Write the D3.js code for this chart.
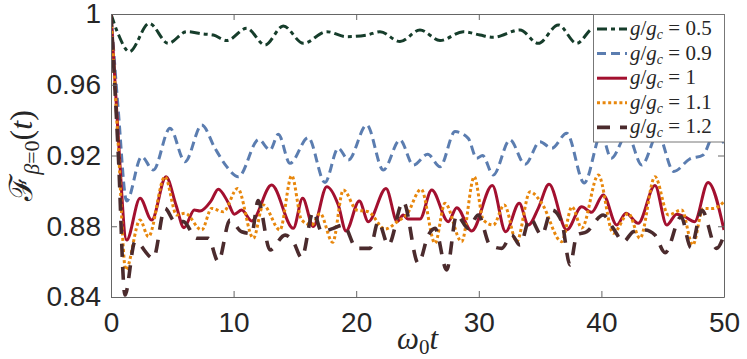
<!DOCTYPE html>
<html><head><meta charset="utf-8">
<script src="https://cdn.jsdelivr.net/npm/d3@7"></script>
<style>body{margin:0;background:#fff}svg{display:block}</style>
</head><body>
<svg id="c" width="747" height="359"></svg>
<script>
// ---- data ----
const xTicks = [0, 10, 20, 30, 40, 50];
const yTicks = [0.84, 0.88, 0.92, 0.96, 1];
const yTickLabels = ["0.84", "0.88", "0.92", "0.96", "1"];
const seriesNames = ["0.5", "0.9", "1", "1.1", "1.2"];

const t05 = [0,0.57,1.5,3.12,4.67,6.17,7.53,8.35,9.44,11.07,12.56,14.05,15.69,17.6,19.2,20.86,21.94,23.57,25.2,26.84,28.74,30.1,31.18,33.36,34.85,36.49,37.98,39.4,41.0,42.6,44.2,45.9,47.5,49.1,50];
const v05 = [1,0.989,0.9787,0.9947,0.9834,0.990,0.9887,0.9881,0.985,0.9919,0.9825,0.9932,0.9834,0.990,0.9872,0.9881,0.990,0.9844,0.991,0.985,0.990,0.9881,0.9868,0.991,0.9834,0.9938,0.9834,0.992,0.986,0.991,0.985,0.992,0.985,0.991,0.989];

const t09 = [0,0.6,1.28,2.5,3.45,4.81,6.04,7.4,8.48,9.44,10.39,12.05,12.97,13.65,14.6,16.09,17.45,18.54,19.36,20.86,22.21,23.57,24.66,25.83,26.84,28.06,29.14,29.83,30.3,31.18,32.54,33.77,34.99,35.95,37.17,38.6,40.0,40.8,42.1,43.3,44.6,45.9,47.2,48.3,49.2,50];
const v09 = [1,0.945,0.8943,0.9193,0.9118,0.9354,0.9165,0.9372,0.9241,0.9137,0.908,0.929,0.9231,0.932,0.9156,0.9301,0.9048,0.9241,0.9175,0.9372,0.9118,0.9288,0.9146,0.9207,0.9137,0.9335,0.9297,0.9184,0.920,0.909,0.9288,0.915,0.9278,0.9241,0.9326,0.9045,0.932,0.9184,0.932,0.9146,0.932,0.911,0.918,0.9203,0.932,0.927];

const t10 = [0,0.57,1.28,2.37,3.32,4.49,5.30,5.95,6.8,7.26,8.16,8.75,9.52,10.06,10.66,11.48,13.1,14.87,15.63,16.5,17.6,18.54,19.17,20.25,20.99,22.43,23.35,23.84,24.2,25.2,26.16,27.51,28.2,29.42,31.1,32.19,33.3,34.04,34.85,35.73,37.17,38.39,39.2,40.15,41.25,42.0,43.0,44.37,45.33,46.14,46.8,47.6,48.7,50];
const v10 = [1,0.933,0.8722,0.8958,0.8835,0.908,0.892,0.8792,0.8892,0.8886,0.8943,0.9009,0.8939,0.8868,0.8892,0.883,0.9033,0.8788,0.8958,0.8798,0.9024,0.892,0.8773,0.8943,0.8826,0.9014,0.8826,0.8864,0.8841,0.8841,0.9005,0.8826,0.8905,0.8773,0.903,0.8769,0.893,0.8807,0.8901,0.9037,0.8779,0.891,0.8879,0.8977,0.8807,0.8873,0.8817,0.903,0.8807,0.8868,0.8854,0.8826,0.9048,0.8779];

const t11 = [0,0.6,1.2,2.37,3.05,4.4,5.36,6.04,7.4,8.21,9.16,10.33,11.61,12.42,13.78,14.74,15.55,16.37,17.05,18.08,18.95,20.04,20.99,22.35,23.43,24.1,25.3,26.43,27.24,28.6,29.63,30.37,31.18,32.08,33.09,34.18,35.13,36.76,37.6,38.4,39.75,40.97,42.2,43.15,44.37,45.46,46.55,47.45,48.31,49.1,50];
const v11 = [1,0.925,0.8553,0.8835,0.8741,0.908,0.8864,0.8873,0.8779,0.8901,0.8882,0.9014,0.8732,0.892,0.8779,0.9086,0.8835,0.8807,0.8873,0.8709,0.9005,0.8892,0.8882,0.8784,0.883,0.8864,0.9009,0.8704,0.893,0.8713,0.908,0.8835,0.8807,0.892,0.8713,0.8995,0.893,0.8713,0.891,0.879,0.909,0.876,0.8873,0.8732,0.908,0.8864,0.8892,0.8694,0.8901,0.890,0.8939];

const t12 = [0,0.6,1.14,1.96,3.45,4.4,5.22,5.9,6.99,7.94,8.75,9.7,10.66,11.48,12.0,12.97,14.2,14.87,15.55,16.5,17.19,18.13,18.95,20.04,21.13,21.8,22.62,23.84,25.07,25.88,26.43,27.38,28.2,29.14,29.96,30.91,31.87,32.68,33.36,34.18,35.13,35.95,36.76,37.44,38.0,38.8,40.15,40.97,41.79,42.6,43.56,44.37,45.2,46.5,47.3,48.2,49.4,50];
const v12 = [1,0.92,0.8411,0.8713,0.8619,0.8901,0.8826,0.8826,0.8732,0.8732,0.86,0.8835,0.8769,0.8759,0.8945,0.8666,0.875,0.8713,0.8622,0.8882,0.8769,0.8788,0.8807,0.8675,0.8675,0.8826,0.8694,0.8939,0.859,0.875,0.8788,0.8553,0.8864,0.8788,0.8864,0.8694,0.8675,0.875,0.8694,0.8845,0.875,0.8892,0.8826,0.8581,0.875,0.8769,0.8864,0.8788,0.8713,0.8769,0.8779,0.875,0.865,0.8854,0.868,0.889,0.8675,0.875];

const seriesT = [t05, t09, t10, t11, t12];
const seriesV = [v05, v09, v10, v11, v12];

// ---- styles ----
const colors = ["#163d2b", "#5b7db0", "#a3102f", "#e8870c", "#4b2b2d"];
const dashes = ["10,4,4,4", "9,5", null, "3,2.6", "13,10"];
const widths = [3, 3, 3, 3, 3.6];

const L = 111, R = 724, T = 14, B = 297;
const svg = d3.select("#c");
const x = d3.scaleLinear().domain([0, 50]).range([L, R]);
const y = d3.scaleLinear().domain([0.84, 1]).range([B, T]);

svg.append("clipPath").attr("id", "clip").append("rect")
  .attr("x", L).attr("y", T).attr("width", R - L).attr("height", B - T);

const line = d3.line().x(d => x(d[0])).y(d => y(d[1])).curve(d3.curveMonotoneX);
const g = svg.append("g").attr("clip-path", "url(#clip)");
seriesT.forEach((ts, i) => {
  const pts = ts.map((t, k) => [t, seriesV[i][k]]);
  g.append("path").attr("d", line(pts)).attr("fill", "none")
    .attr("stroke", colors[i]).attr("stroke-width", widths[i])
    .attr("stroke-dasharray", dashes[i]).attr("stroke-linejoin", "round");
});

// axes
const axCol = "#666";
function style(sel) {
  sel.select(".domain").attr("stroke", axCol);
  sel.selectAll(".tick line").attr("stroke", axCol);
  sel.selectAll(".tick text").attr("fill", "#262626")
    .style("font-family", "'Liberation Sans', Arial, sans-serif").style("font-size", "28px");
}
svg.append("g").attr("transform", `translate(0,${B})`)
  .call(d3.axisBottom(x).tickValues(xTicks).tickSizeInner(-6).tickSizeOuter(0).tickPadding(15)).call(style);
svg.append("g").attr("transform", `translate(0,${T})`)
  .call(d3.axisTop(x).tickValues(xTicks).tickSizeInner(-6).tickSizeOuter(0).tickFormat("")).call(style);
svg.append("g").attr("transform", `translate(${L},0)`)
  .call(d3.axisLeft(y).tickValues(yTicks).tickFormat((d, i) => yTickLabels[i]).tickSizeInner(-6).tickSizeOuter(0).tickPadding(10)).call(style);
svg.append("g").attr("transform", `translate(${R},0)`)
  .call(d3.axisRight(y).tickValues(yTicks).tickSizeInner(-6).tickSizeOuter(0).tickFormat("")).call(style);

// axis labels
const serif = "'Liberation Serif', 'Times New Roman', serif";
const xl = svg.append("text").attr("x", (L + R) / 2).attr("y", 349).attr("text-anchor", "middle")
  .style("font-family", serif).style("font-size", "31px").attr("fill", "#262626");
xl.append("tspan").style("font-style", "italic").text("ω");
xl.append("tspan").attr("dy", 5).style("font-size", "21px").text("0");
xl.append("tspan").attr("dy", -5).style("font-style", "italic").text("t");

const yl = svg.append("text").attr("transform", `translate(32,${(T + B) / 2}) rotate(-90)`)
  .attr("text-anchor", "middle").style("font-family", serif).style("font-size", "32px").attr("fill", "#262626");
yl.append("tspan").text("ℱ");
yl.append("tspan").attr("dy", 7).style("font-size", "22px").style("font-style", "italic").text("β");
yl.append("tspan").style("font-size", "22px").text("=0");
yl.append("tspan").attr("dy", -7).text("(");
yl.append("tspan").style("font-style", "italic").text("t");
yl.append("tspan").text(")");

// legend
const lg = svg.append("g");
lg.append("rect").attr("x", 593.5).attr("y", 14.5).attr("width", 131).attr("height", 127.5)
  .attr("fill", "#fff").attr("stroke", "#777").attr("stroke-width", 1);
seriesNames.forEach((nm, i) => {
  const yy = 29 + i * 24.6;
  lg.append("line").attr("x1", 597).attr("x2", 627).attr("y1", yy).attr("y2", yy)
    .attr("stroke", colors[i]).attr("stroke-width", widths[i]).attr("stroke-dasharray", dashes[i]);
  const tx = lg.append("text").attr("x", 630).attr("y", yy + 6)
    .style("font-family", serif).style("font-size", "21px").attr("fill", "#262626");
  tx.append("tspan").style("font-style", "italic").text("g");
  tx.append("tspan").text("/");
  tx.append("tspan").style("font-style", "italic").text("g");
  tx.append("tspan").attr("dy", 4).style("font-size", "14px").style("font-style", "italic").text("c");
  tx.append("tspan").attr("dy", -4).text(" = " + nm);
});
</script>
</body></html>
